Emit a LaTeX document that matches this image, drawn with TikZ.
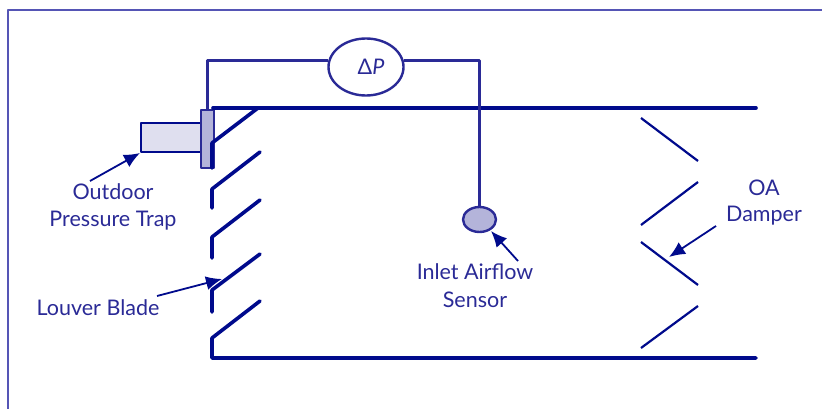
\documentclass[tikz,border=0pt]{standalone}
\usepackage{fontspec}
\setmainfont{Lato}
\usetikzlibrary{arrows.meta, shapes.geometric}
\definecolor{duct}{HTML}{000A8C}
\definecolor{ink}{HTML}{2A2A96}
\definecolor{frameline}{HTML}{5555B5}

\begin{document}
\begin{tikzpicture}[x=1pt, y=-1pt, line join=round,
    label/.style={text=ink, font=\fontsize{21.5}{24}\selectfont, inner sep=0pt},
    wall/.style={draw=duct, line width=3.6pt, line cap=round},
    blade/.style={draw=duct, line width=3.6pt, line cap=round},
    flap/.style={draw=duct, line width=2.2pt},
    tube/.style={draw=ink, line width=2.4pt},
    pointer/.style={draw=duct, line width=1.8pt, -{Latex[length=16pt,width=14pt]}}]
        \useasboundingbox (0,0) rectangle (822,409);
        % Define the frame
        \draw[frameline, line width=2pt] (8,409) |- (822,10);
        % Define the nodes
        \node[ellipse, tube, fill=white, minimum width=75pt, minimum height=57pt, inner sep=0pt] (dp) at (366,67) {};
        \node[label] (dp_text) at (371,67) {Δ\textit{P}};
        \node[draw=duct, line width=2pt, fill=ink!15, minimum width=62pt, minimum height=29pt, inner sep=0pt] (trap) at (172,137.5) {};
        \node[draw=ink, line width=2pt, fill=ink!35, minimum width=13pt, minimum height=58pt, inner sep=0pt] (plate) at (207.5,139) {};
        \node[ellipse, tube, fill=ink!35, minimum width=33pt, minimum height=25pt, inner sep=0pt] (sensor) at (479.5,219.5) {};
        \node[label] (outdoor) at (113,192) {Outdoor};
        \node[label] (trap_text) at (113,221) {Pressure Trap};
        \node[label] (louver) at (98,308) {Louver Blade};
        \node[label] (inlet) at (475,272) {Inlet Airflow};
        \node[label] (sensor_text) at (475,300) {Sensor};
        \node[label] (oa) at (764,188) {OA};
        \node[label] (damper) at (764,216) {Damper};
        % Define the free ends
        \coordinate (outdoor_tail) at (90,181);
        \coordinate (louver_tail) at (157,296);
        \coordinate (louver_tip) at (222,279);
        \coordinate (inlet_tail) at (518,261);
        \coordinate (inlet_tip) at (491,231);
        \coordinate (damper_tail) at (716,226);
        \coordinate (damper_tip) at (669,257);
        % Define the duct and the blades
        \draw[wall] (756,108) -- (213,108);
        \draw[wall] (756,358) -- (212,358) -- (212,338) -- (260,301);
        \draw[blade] (212,168) -- (212,143) -- (258,108);
        \draw[blade] (212,208) -- (212,189) -- (260,152);
        \draw[blade] (212,258) -- (212,237) -- (260,200);
        \draw[blade] (212,312) -- (212,290) -- (260,254);
        \draw[flap] (641,118) -- (698,161);
        \draw[flap] (698,182) -- (641,225);
        \draw[flap] (641,242) -- (698,285);
        \draw[flap] (698,306) -- (641,348);
        % Define the connections
        \draw[tube] (dp.170) -| (plate.north);
        \draw[tube] (dp.10) -| (sensor.north);
        \draw[pointer] (outdoor_tail) -- (trap.south west);
        \draw[pointer] (louver_tail) -- (louver_tip);
        \draw[pointer] (inlet_tail) -- (inlet_tip);
        \draw[pointer] (damper_tail) -- (damper_tip);
\end{tikzpicture}
\end{document}
